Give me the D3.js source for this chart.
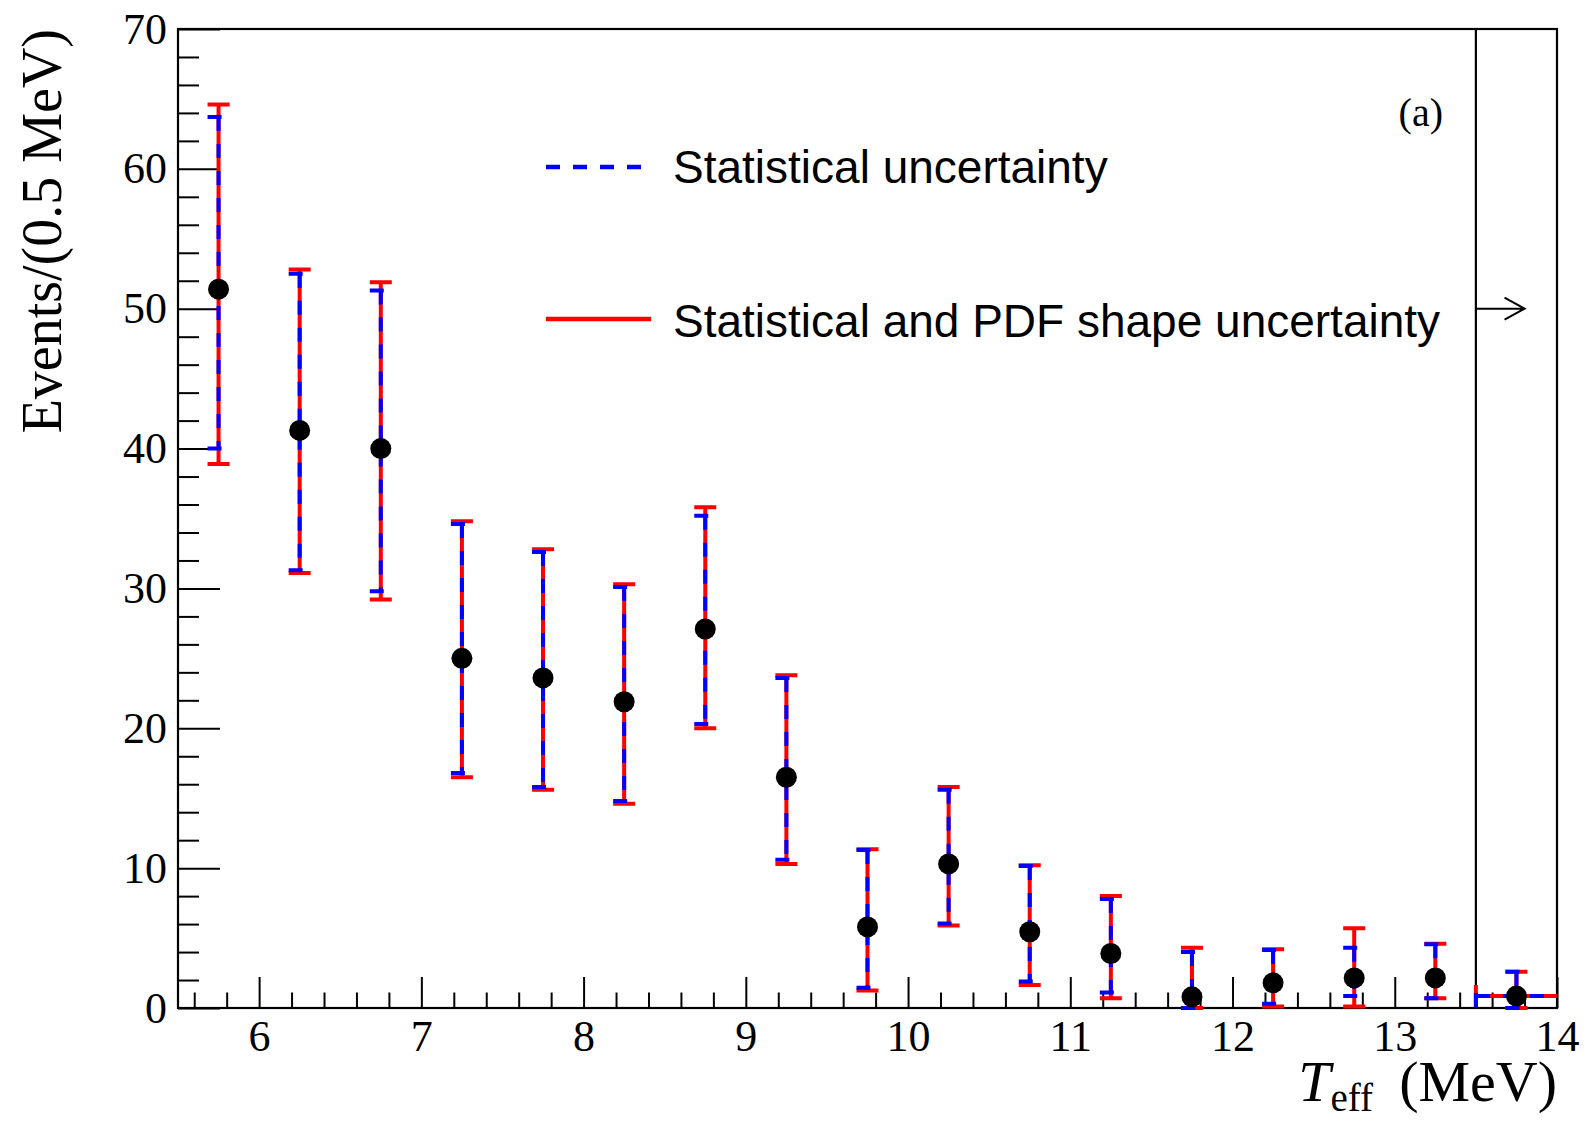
<!DOCTYPE html>
<html>
<head>
<meta charset="utf-8">
<script src="https://cdn.jsdelivr.net/npm/d3@7"></script>
<style>
  html, body { margin: 0; padding: 0; background: #fff; }
  svg { display: block; }
</style>
</head>
<body>
<svg id="chart" width="1587" height="1123"></svg>
<script>
// ---- data ----
const binCenters = [5.75, 6.25, 6.75, 7.25, 7.75, 8.25, 8.75, 9.25, 9.75, 10.25, 10.75, 11.25, 11.75, 12.25, 12.75, 13.25, 13.75];
const events     = [51.4, 41.3, 40.0, 25.0, 23.6, 21.9, 27.1, 16.5, 5.8, 10.3, 5.45, 3.9, 0.8, 1.8, 2.15, 2.15, 0.85];
// statistical uncertainty band ends (lower, upper)
const statLow    = [40.0, 31.3, 29.8, 16.8, 15.8, 14.8, 20.3, 10.6, 1.45, 6.05, 1.9, 1.1, 0.0, 0.3, 0.85, 0.7, 0.0];
const statHigh   = [63.7, 52.5, 51.3, 34.6, 32.6, 30.1, 35.2, 23.6, 11.3, 15.6, 10.15, 7.8, 4.0, 4.15, 4.3, 4.55, 2.6];
// statistical + PDF shape uncertainty ends (lower, upper)
const totLow     = [38.9, 31.1, 29.2, 16.5, 15.6, 14.6, 20.0, 10.3, 1.25, 5.9, 1.65, 0.7, 0.0, 0.1, 0.1, 0.7, 0.0];
const totHigh    = [64.6, 52.8, 51.9, 34.8, 32.8, 30.3, 35.8, 23.8, 11.35, 15.8, 10.2, 8.0, 4.3, 4.2, 5.7, 4.6, 2.6];
// horizontal half-width (only the overflow bin shows one)
const xHalfErr   = [0, 0, 0, 0, 0, 0, 0, 0, 0, 0, 0, 0, 0, 0, 0, 0, 0.25];

const xTickLabels = [6, 7, 8, 9, 10, 11, 12, 13, 14];
const yTickLabels = [0, 10, 20, 30, 40, 50, 60, 70];
const xDomain = [5.5, 14];
const yDomain = [0, 70];
const cutValue = 13.5;       // vertical cut line
const arrowAtY = 50;         // arrow height on the cut line
const arrowLength = 0.3;     // MeV
const legendLabels = ["Statistical uncertainty", "Statistical and PDF shape uncertainty"];
const panelLabel = "(a)";

// ---- layout ----
const L = 178, R = 1557, T = 29, B = 1008;
const svg = d3.select("#chart");
const x = d3.scaleLinear().domain(xDomain).range([L, R]);
const y = d3.scaleLinear().domain(yDomain).range([B, T]);

const serif = "'Liberation Serif', 'Times New Roman', serif";
const sans = "'Liberation Sans', Arial, sans-serif";
const RED = "#ff0000", BLUE = "#0000ff";

// minor tick values
const xMinor = d3.range(56, 140, 2).map(v => v / 10).filter(v => Math.abs(v - Math.round(v)) > 1e-6);
const yMinor = d3.range(2, 70, 2).filter(v => v % 10 !== 0);

function styleAxis(g) {
  g.select(".domain").remove();
  g.selectAll(".tick line").attr("stroke", "#000").attr("stroke-width", 2);
}

// x axis minor
svg.append("g").attr("transform", `translate(0,${B})`)
  .call(d3.axisBottom(x).tickValues(xMinor).tickSize(-15.5).tickFormat(""))
  .call(styleAxis);
// x axis major
svg.append("g").attr("transform", `translate(0,${B})`)
  .call(d3.axisBottom(x).tickValues(xTickLabels).tickSize(-31).tickPadding(12).tickFormat(d3.format("d")))
  .call(styleAxis)
  .call(g => g.selectAll("text").attr("font-family", serif).attr("font-size", 44).attr("fill", "#000"));
// y axis minor
svg.append("g").attr("transform", `translate(${L},0)`)
  .call(d3.axisLeft(y).tickValues(yMinor).tickSize(-21).tickFormat(""))
  .call(styleAxis);
// y axis major
svg.append("g").attr("transform", `translate(${L},0)`)
  .call(d3.axisLeft(y).tickValues(yTickLabels).tickSize(-42).tickPadding(11).tickFormat(d3.format("d")))
  .call(styleAxis)
  .call(g => g.selectAll("text").attr("font-family", serif).attr("font-size", 44).attr("fill", "#000"));

// frame
svg.append("rect").attr("x", L).attr("y", T).attr("width", R - L).attr("height", B - T)
  .attr("fill", "none").attr("stroke", "#000").attr("stroke-width", 2.2);

// cut line and arrow
svg.append("line").attr("x1", x(cutValue)).attr("x2", x(cutValue)).attr("y1", T).attr("y2", B)
  .attr("stroke", "#000").attr("stroke-width", 2.2);
const ax0 = x(cutValue), ax1 = x(cutValue + arrowLength), ay = y(arrowAtY);
svg.append("path")
  .attr("d", `M${ax0},${ay}H${ax1}M${ax1 - 20},${ay - 11}L${ax1},${ay}L${ax1 - 20},${ay + 11}`)
  .attr("fill", "none").attr("stroke", "#000").attr("stroke-width", 2);

// error bars
const cap = 11;
const data = binCenters.map((c, i) => ({
  c, v: events[i], sl: statLow[i], sh: statHigh[i], tl: totLow[i], th: totHigh[i], xe: xHalfErr[i]
}));

function barPath(d, lo, hi) {
  const cx = x(d.c), yl = y(lo), yh = y(hi);
  let p = `M${cx - cap},${yh}H${cx + cap}M${cx},${yh}V${yl}M${cx - cap},${yl}H${cx + cap}`;
  if (d.xe > 0) {
    const xl = x(d.c - d.xe), xr = Math.min(x(d.c + d.xe), R), yc = y(d.v);
    p += `M${xl},${yc + cap}V${yc - cap}M${xl},${yc}H${xr}`;
  }
  return p;
}

const gErr = svg.append("g");
gErr.selectAll("path.tot").data(data).join("path")
  .attr("class", "tot")
  .attr("d", d => barPath(d, d.tl, d.th))
  .attr("fill", "none").attr("stroke", RED).attr("stroke-width", 4);
gErr.selectAll("path.stat").data(data).join("path")
  .attr("class", "stat")
  .attr("d", d => barPath(d, d.sl, d.sh))
  .attr("fill", "none").attr("stroke", BLUE).attr("stroke-width", 4)
  .attr("stroke-dasharray", "14,13");

// markers
svg.append("g").selectAll("circle").data(data).join("circle")
  .attr("cx", d => x(d.c)).attr("cy", d => y(d.v)).attr("r", 10.5).attr("fill", "#000");

// legend
const lg = svg.append("g");
lg.append("line").attr("x1", 546).attr("x2", 641).attr("y1", 167).attr("y2", 167)
  .attr("stroke", BLUE).attr("stroke-width", 4.5).attr("stroke-dasharray", "14,13");
lg.append("text").attr("x", 673).attr("y", 183).text(legendLabels[0])
  .attr("font-family", sans).attr("font-size", 46).attr("fill", "#000");
lg.append("line").attr("x1", 546).attr("x2", 651).attr("y1", 319).attr("y2", 319)
  .attr("stroke", RED).attr("stroke-width", 4.5);
lg.append("text").attr("x", 673).attr("y", 337).text(legendLabels[1])
  .attr("font-family", sans).attr("font-size", 46).attr("fill", "#000");

// panel label
svg.append("text").attr("x", 1443).attr("y", 126).attr("text-anchor", "end")
  .attr("font-family", serif).attr("font-size", 40).text(panelLabel);

// axis titles
svg.append("text")
  .attr("transform", `translate(61,${T}) rotate(-90)`)
  .attr("text-anchor", "end")
  .attr("font-family", serif).attr("font-size", 56)
  .text("Events/(0.5 MeV)");

const xt = svg.append("text").attr("x", R).attr("y", 1101).attr("text-anchor", "end")
  .attr("font-family", serif).attr("font-size", 58);
xt.append("tspan").attr("font-style", "italic").text("T");
xt.append("tspan").attr("font-size", 39).attr("dy", 10).text("eff");
xt.append("tspan").attr("dy", -10).text("\u00a0\u2009(MeV)");
</script>
</body>
</html>
